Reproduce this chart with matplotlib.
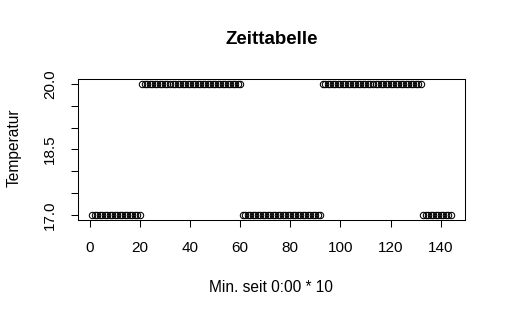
import matplotlib
matplotlib.use("Agg")
from matplotlib import pyplot as plt

# Temperatur-Plan, 144 Zeitpunkte (alle 10 Minuten)
low_temp = 17.0
high_temp = 20.0
# (start, ende, wert) der Abschnitte
segments = [(1, 20, low_temp), (21, 60, high_temp), (61, 92, low_temp),
            (93, 132, high_temp), (133, 144, low_temp)]
x_ticks = [0, 20, 40, 60, 80, 100, 120, 140]
y_ticks = [17.0, 17.5, 18.0, 18.5, 19.0, 19.5, 20.0]
y_labels = ['17.0', '', '', '18.5', '', '', '20.0']

minutes = []
temps = []
for start, end, val in segments:
    for m in range(start, end + 1):
        minutes.append(m)
        temps.append(val)

plt.rcParams['font.family'] = ['Liberation Sans', 'DejaVu Sans']

fig = plt.figure(figsize=(5.08, 3.18), dpi=100, facecolor='w')
ax = fig.add_axes([0.1535, 0.3082, 0.7619, 0.4434])

ax.plot(minutes, temps, 'o', markerfacecolor='none', markeredgecolor='black',
        markersize=4.6, markeredgewidth=0.75)

ax.set_xlim(1 - 0.04 * 143, 144 + 0.04 * 143)
ax.set_ylim(17 - 0.04 * 3, 20 + 0.04 * 3)
ax.set_xticks(x_ticks)
ax.set_yticks(y_ticks)
ax.set_yticklabels(y_labels, rotation=90, va='center')
ax.tick_params(axis='both', direction='out', length=5, width=0.75,
               labelsize=11, color='black')
ax.tick_params(axis='x', pad=10)
ax.tick_params(axis='y', pad=10)
for sp in ax.spines.values():
    sp.set_linewidth(0.75)

fig.text(0.534, 0.877, 'Zeittabelle', ha='center', va='center',
         fontsize=13.5, fontweight='bold')
fig.text(0.534, 0.096, 'Min. seit 0:00 * 10', ha='center', va='center',
         fontsize=11.2)
fig.text(0.028, 0.535, 'Temperatur', ha='center', va='center',
         fontsize=11.2, rotation=90)

fig.savefig('out.png', dpi=100)
